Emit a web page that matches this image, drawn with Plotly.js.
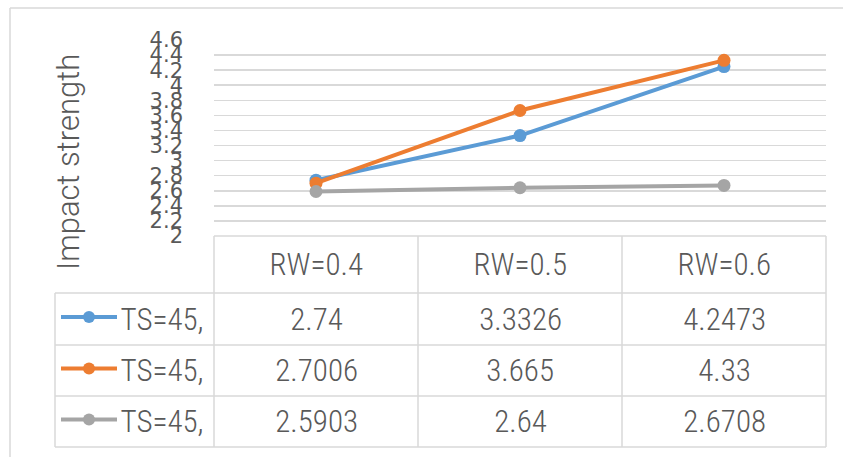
<!DOCTYPE html>
<html>
<head>
<meta charset="utf-8">
<script src="https://cdn.plot.ly/plotly-3.0.1.min.js"></script>
<style>
html,body{margin:0;padding:0;background:#fff;}
#chart{width:843px;height:457px;}
#chart .annotation-text{font-stretch:87.5%;}
#chart .annotation.ytitle .annotation-text{font-stretch:100%;}
</style>
</head>
<body>
<div id="chart"></div>
<script>
// ---- data ----
var categories = ["RW=0.4", "RW=0.5", "RW=0.6"];
var seriesNames = ["TS=45,", "TS=45,", "TS=45,"];
var seriesBlue = [2.74, 3.3326, 4.2473];
var seriesOrange = [2.7006, 3.665, 4.33];
var seriesGray = [2.5903, 2.64, 2.6708];
var tableText = [
  ["2.74", "3.3326", "4.2473"],
  ["2.7006", "3.665", "4.33"],
  ["2.5903", "2.64", "2.6708"]
];
var yTickVals = [2, 2.2, 2.4, 2.6, 2.8, 3, 3.2, 3.4, 3.6, 3.8, 4, 4.2, 4.4, 4.6];
var yTickText = ["2", "2.2", "2.4", "2.6", "2.8", "3", "3.2", "3.4", "3.6", "3.8", "4", "4.2", "4.4", "4.6"];
var yTitle = "Impact strength";

// ---- styles ----
var colors = ["#5B9BD5", "#ED7D31", "#A5A5A5"];
var allSeries = [seriesBlue, seriesOrange, seriesGray];
var textColor = "#595959";
var gridColor = "#D9D9D9";
var W = 843, H = 457, L = 214, R = 17, T = 40, B = 221;
var pw = W - L - R, ph = H - T - B;
function px(x) { return (x - L) / pw; }
function py(y) { return (H - B - y) / ph; }

var traces = allSeries.map(function (vals, i) {
  return {
    type: "scatter", mode: "lines+markers",
    x: categories, y: vals, name: seriesNames[i],
    line: {color: colors[i], width: 4},
    marker: {color: colors[i], size: 13},
    hoverinfo: "skip", cliponaxis: false
  };
});

var lineStyle = {color: gridColor, width: 1.5};
var shapes = [];
function seg(x0, y0, x1, y1, ln) {
  shapes.push({type: "line", xref: "paper", yref: "paper", x0: x0, y0: y0, x1: x1, y1: y1, line: ln || lineStyle, layer: "above"});
}
// chart border (left + top visible)
seg(px(10), py(8), px(10), py(470));
seg(px(10), py(8), px(860), py(8));
// table horizontal lines
seg(px(214), py(236), px(826), py(236));
var rowLines = [293, 345, 396, 447];
rowLines.forEach(function (y) { seg(px(55), py(y), px(826), py(y)); });
// table vertical lines
seg(px(55), py(293), px(55), py(447));
[214, 418, 622, 826].forEach(function (x) { seg(px(x), py(236), px(x), py(447)); });

var annotations = [];
var headerY = py(264.5);
var rowY = [py(319), py(370.5), py(421.5)];
var tFont = {family: "Roboto, 'Open Sans', sans-serif", size: 31, weight: 300, color: textColor};
categories.forEach(function (c) {
  annotations.push({xref: "x", yref: "paper", x: c, y: headerY, text: c, showarrow: false, font: tFont, xanchor: "center", yanchor: "middle"});
});
tableText.forEach(function (row, r) {
  row.forEach(function (t, i) {
    annotations.push({xref: "x", yref: "paper", x: categories[i], y: rowY[r], text: t, showarrow: false, font: tFont, xanchor: "center", yanchor: "middle"});
  });
  annotations.push({xref: "paper", yref: "paper", x: px(113), y: rowY[r], text: seriesNames[r], showarrow: false, font: tFont, xanchor: "left", yanchor: "middle"});
  // legend key
  var ky = rowY[r] + (py(317) - py(319));
  seg(px(61), ky, px(117), ky, {color: colors[r], width: 4});
  shapes.push({type: "circle", xref: "paper", yref: "paper",
    x0: px(83), x1: px(95), y0: ky - 6 / ph, y1: ky + 6 / ph,
    fillcolor: colors[r], line: {color: colors[r], width: 0}, layer: "above"});
});
var titleIndex = annotations.length;
// y axis title (rotated)
annotations.push({xref: "paper", yref: "paper", x: px(68), y: py(162), text: yTitle, textangle: -90, showarrow: false,
  font: {family: "Roboto, 'Open Sans', sans-serif", size: 31, weight: 300, color: textColor}, xanchor: "center", yanchor: "middle"});

var layout = {
  width: W, height: H,
  margin: {l: L, r: R, t: T, b: B, pad: 0},
  paper_bgcolor: "#ffffff", plot_bgcolor: "#ffffff",
  showlegend: false, hovermode: false,
  xaxis: {type: "category", range: [-0.5, 2.5], showticklabels: false, showgrid: false, zeroline: false, showline: false, ticks: ""},
  yaxis: {
    range: [2, 4.6], tickmode: "array", tickvals: yTickVals, ticktext: yTickText,
    showgrid: true, gridcolor: gridColor, gridwidth: 1.5, zeroline: false, showline: false,
    ticks: "", ticklabelstandoff: 30,
    tickfont: {family: "DejaVu Sans, sans-serif", size: 21, color: textColor},
    automargin: false
  },
  shapes: shapes,
  annotations: annotations
};
Plotly.newPlot("chart", traces, layout, {staticPlot: true, displayModeBar: false}).then(function () {
  var g = document.querySelector('#chart .annotation[data-index="' + titleIndex + '"]');
  if (g) g.classList.add("ytitle");
});
</script>
</body>
</html>
